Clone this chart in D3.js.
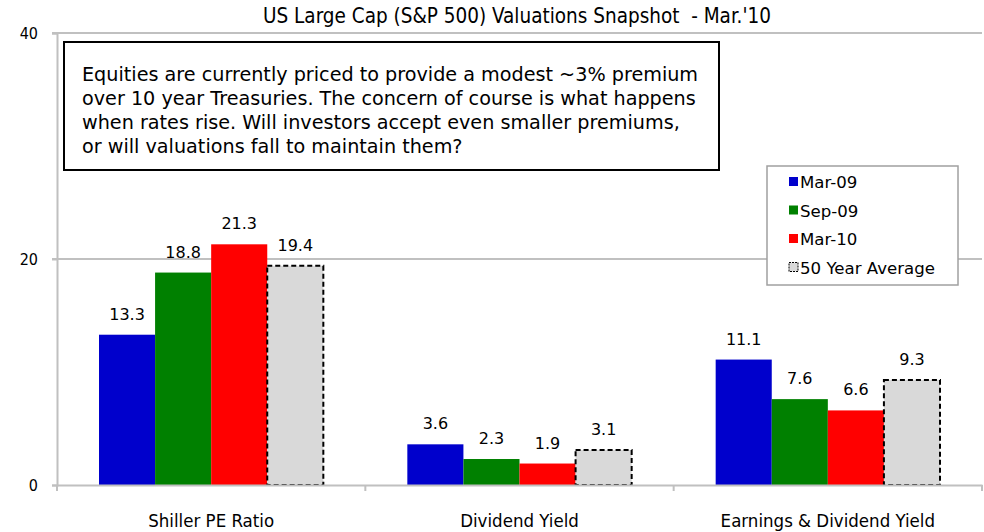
<!DOCTYPE html>
<html>
<head>
<meta charset="utf-8">
<script src="https://cdn.jsdelivr.net/npm/d3@7"></script>
<style>
  body { margin: 0; background: #fff; }
  svg { display: block; }
</style>
</head>
<body>
<div id="chart"></div>
<script>
// Chart data
const categories = ['Shiller PE Ratio', 'Dividend Yield', 'Earnings & Dividend Yield'];
const seriesNames = ['Mar-09', 'Sep-09', 'Mar-10', '50 Year Average'];
const seriesColors = ['#0000cc', '#008000', '#ff0000', '#d9d9d9'];
const mar09 = [13.3, 3.6, 11.1];
const sep09 = [18.8, 2.3, 7.6];
const mar10 = [21.3, 1.9, 6.6];
const avg50 = [19.4, 3.1, 9.3];
const yTicks = [0, 20, 40];
const titleText = "US Large Cap (S&P 500) Valuations Snapshot  - Mar.'10";
const noteLines = [
    'Equities are currently priced to provide a modest ~3% premium',
    'over 10 year Treasuries. The concern of course is what happens',
    'when rates rise. Will investors accept even smaller premiums,',
    'or will valuations fall to maintain them?'
];

const allSeries = [mar09, sep09, mar10, avg50];
const W = 984, H = 532;
const margin = { top: 33, right: 2, bottom: 47, left: 57 };
const width = W - margin.left - margin.right;
const height = H - margin.top - margin.bottom;
const labelFont = '"DejaVu Sans", sans-serif';
const narrowFont = '"Liberation Sans Narrow", "DejaVu Sans Condensed", sans-serif';

const root = d3.select('#chart')
    .append('svg')
    .attr('width', W)
    .attr('height', H);

root.append('text')
    .attr('x', 517)
    .attr('y', 23)
    .attr('text-anchor', 'middle')
    .style('white-space', 'pre')
    .style('font-family', narrowFont)
    .style('font-size', '20.5px')
    .style('fill', '#000')
    .text(titleText);

const svg = root.append('g')
    .attr('transform', `translate(${margin.left},${margin.top})`);

const x = d3.scaleBand()
    .domain(categories)
    .range([0, width]);

const xInner = d3.scaleBand()
    .domain(seriesNames)
    .range([42, x.bandwidth() - 42]);

const y = d3.scaleLinear()
    .domain([0, 40])
    .range([height, 0]);

// Gridlines
svg.selectAll('.grid')
    .data(yTicks.filter(t => t > 0))
    .enter()
    .append('line')
    .attr('x1', -5)
    .attr('x2', width)
    .attr('y1', d => y(d))
    .attr('y2', d => y(d))
    .style('stroke', '#c0c0c0')
    .style('stroke-width', 2);

// Y axis
const yAxis = svg.append('g')
    .call(d3.axisLeft(y).tickValues(yTicks).tickSize(5).tickPadding(14));
yAxis.select('.domain').style('stroke', '#c0c0c0').style('stroke-width', 2);
yAxis.selectAll('line').style('stroke', '#c0c0c0').style('stroke-width', 2);
yAxis.selectAll('text')
    .style('font-family', '"DejaVu Sans Condensed", sans-serif')
    .style('font-size', '16px')
    .style('fill', '#000');

// Bars
const rows = categories.map((c, i) => ({
    category: c,
    values: seriesNames.map((s, j) => ({ series: s, index: j, value: allSeries[j][i] }))
}));

const groups = svg.selectAll('.group')
    .data(rows)
    .enter()
    .append('g')
    .attr('transform', d => `translate(${x(d.category)},0)`);

groups.selectAll('rect')
    .data(d => d.values)
    .enter()
    .append('rect')
    .attr('x', d => xInner(d.series))
    .attr('y', d => y(d.value))
    .attr('width', xInner.bandwidth())
    .attr('height', d => height - y(d.value))
    .attr('fill', d => seriesColors[d.index])
    .attr('stroke', d => d.index === 3 ? '#000' : 'none')
    .attr('stroke-width', 2)
    .attr('stroke-dasharray', d => d.index === 3 ? '5,3' : null);

groups.selectAll('.bar-label')
    .data(d => d.values)
    .enter()
    .append('text')
    .attr('x', d => xInner(d.series) + xInner.bandwidth() / 2)
    .attr('y', d => y(d.value) - 15)
    .attr('text-anchor', 'middle')
    .style('font-family', labelFont)
    .style('font-size', '16px')
    .style('fill', '#000')
    .text(d => d.value.toFixed(1));

// X axis
const xAxis = svg.append('g')
    .attr('transform', `translate(0,${height})`)
    .call(d3.axisBottom(x).tickSize(0).tickPadding(29));
xAxis.select('.domain').style('stroke', '#c0c0c0').style('stroke-width', 2);
xAxis.selectAll('text')
    .style('font-family', narrowFont)
    .style('font-size', '18.5px')
    .style('fill', '#000');
svg.selectAll('.sep')
    .data(d3.range(categories.length + 1))
    .enter()
    .append('line')
    .attr('x1', i => i * x.step())
    .attr('x2', i => i * x.step())
    .attr('y1', height)
    .attr('y2', height + 6)
    .style('stroke', '#c0c0c0')
    .style('stroke-width', 2);

// Note box
const note = root.append('g');
note.append('rect')
    .attr('x', 64)
    .attr('y', 42)
    .attr('width', 655)
    .attr('height', 128)
    .attr('fill', '#fff')
    .attr('stroke', '#000')
    .attr('stroke-width', 2);
note.selectAll('text')
    .data(noteLines)
    .enter()
    .append('text')
    .attr('x', 82)
    .attr('y', (d, i) => 81 + i * 24)
    .style('font-family', labelFont)
    .style('font-size', '19.2px')
    .style('fill', '#000')
    .text(d => d);

// Legend
const legend = root.append('g').attr('transform', 'translate(767,166)');
legend.append('rect')
    .attr('width', 191)
    .attr('height', 119)
    .attr('fill', '#fff')
    .attr('stroke', '#a0a0a0')
    .attr('stroke-width', 1.5);
const items = legend.selectAll('.item')
    .data(seriesNames)
    .enter()
    .append('g')
    .attr('transform', (d, i) => `translate(22,${16 + i * 28.5})`);
items.append('rect')
    .attr('x', 0)
    .attr('y', -5)
    .attr('width', 9)
    .attr('height', 9)
    .attr('fill', (d, i) => seriesColors[i])
    .attr('stroke', (d, i) => i === 3 ? '#000' : 'none')
    .attr('stroke-width', 1)
    .attr('stroke-dasharray', (d, i) => i === 3 ? '2,1' : null);
items.append('text')
    .attr('x', 11)
    .attr('y', 6)
    .style('font-family', labelFont)
    .style('font-size', '16.6px')
    .style('fill', '#000')
    .text(d => d);
</script>
</body>
</html>
